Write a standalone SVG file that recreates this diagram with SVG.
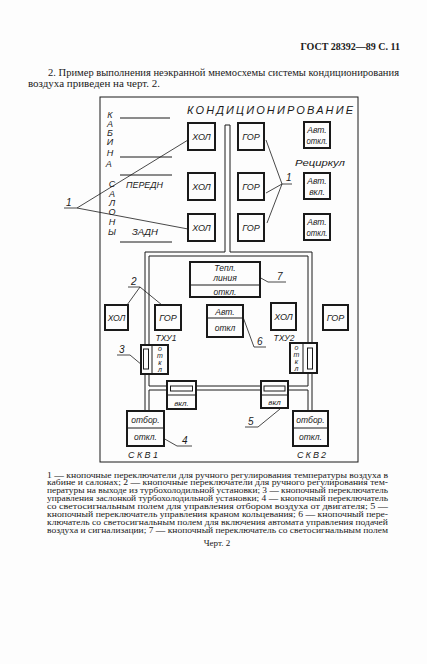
<svg xmlns="http://www.w3.org/2000/svg" width="427" height="664" viewBox="0 0 427 664">
<style>
.bg{fill:#fdfdfd}
.t{font-family:"Liberation Sans",Arial,sans-serif;font-style:italic;fill:#1a1a1a}
.s{font-family:"Liberation Serif","Times New Roman",serif;fill:#1a1a1a}
.bx{fill:#fdfdfd;stroke:#1a1a1a;stroke-width:2}
.ln{fill:none;stroke:#1a1a1a;stroke-width:1}
.lh{fill:none;stroke:#1a1a1a;stroke-width:0.8}
</style>
<rect class="bg" x="0" y="0" width="427" height="664"/>

<g id="header">
<text class="s" x="400" y="50" font-size="10" font-weight="bold" text-anchor="end">ГОСТ 28392—89 С. 11</text>
<text class="s" x="48" y="76" font-size="9.5" textLength="351" lengthAdjust="spacingAndGlyphs">2. Пример выполнения неэкранной мнемосхемы системы кондиционирования</text>
<text class="s" x="28" y="87" font-size="9.5" textLength="132" lengthAdjust="spacingAndGlyphs">воздуха приведен на черт. 2.</text>
</g>

<g id="frame">
<rect class="ln" x="100" y="97" width="258" height="365" stroke-width="1.3"/>
<text class="t" x="187" y="113.5" font-size="11" textLength="166" lengthAdjust="spacing">КОНДИЦИОНИРОВАНИЕ</text>
</g>

<g id="cabin-labels">
<text class="t" font-size="9" text-anchor="middle">
<tspan x="110" y="117.5">К</tspan><tspan x="110" y="126.5">А</tspan><tspan x="110" y="135.5">Б</tspan><tspan x="110" y="144.5">И</tspan><tspan x="110" y="155.5">Н</tspan><tspan x="110" y="166.5">А</tspan>
<tspan x="112" y="186.5">С</tspan><tspan x="112" y="196.5">А</tspan><tspan x="112" y="205.5">Л</tspan><tspan x="112" y="214.5">О</tspan><tspan x="112" y="224.5">Н</tspan><tspan x="112" y="234.5">Ы</tspan>
</text>
<path class="ln" d="M120,118H170M120,157H172M120,175H172M120,242H172"/>
<text class="t" x="126" y="188" font-size="8.5" textLength="37" lengthAdjust="spacingAndGlyphs">ПЕРЕДН</text>
<text class="t" x="132" y="235" font-size="8.5" textLength="26" lengthAdjust="spacingAndGlyphs">ЗАДН</text>
</g>

<g id="connectors">
<path class="ln" d="M145,345V252H225V125H230V252H312V343"/>
<path class="ln" d="M149,345V256H308V343"/>
<path class="ln" d="M145,374V411M149,374V386M149,390V411M149,386H167M149,390H167M196,386H261M196,390H261M288,386H308M288,390H308M312,373V411M308,373V386M308,390V411"/>
</g>

<g id="leaders">
<path class="lh" d="M64,208H77L188,140M77,208L188,229"/>
<path class="lh" d="M266,140L282,184L266,193M282,184L267,223M282,184H292"/>
<path class="lh" d="M128,287H140L127,305M140,287L162,305"/>
<path class="lh" d="M117,355H130L142,365"/>
<path class="lh" d="M163,438L177,446H192"/>
<path class="lh" d="M245,427H258L280,409"/>
<path class="lh" d="M243,317L254,347H266"/>
<path class="lh" d="M259,277L268,282H286"/>
<g class="t" font-size="10">
<text x="66" y="206">1</text>
<text x="286" y="181">1</text>
<text x="131" y="285">2</text>
<text x="119" y="353">3</text>
<text x="182" y="444">4</text>
<text x="248" y="425">5</text>
<text x="257" y="345">6</text>
<text x="277" y="280">7</text>
</g>
</g>

<g id="hol1"><rect class="bx" x="188" y="123" width="27" height="27"/><text class="t" x="201.5" y="139.5" font-size="9" text-anchor="middle">ХОЛ</text></g>
<g id="hol2"><rect class="bx" x="188" y="173" width="27" height="27"/><text class="t" x="201.5" y="189.5" font-size="9" text-anchor="middle">ХОЛ</text></g>
<g id="hol3"><rect class="bx" x="188" y="214" width="27" height="27"/><text class="t" x="201.5" y="230.5" font-size="9" text-anchor="middle">ХОЛ</text></g>
<g id="gor1"><rect class="bx" x="238" y="123" width="26" height="27"/><text class="t" x="251" y="139.5" font-size="9" text-anchor="middle">ГОР</text></g>
<g id="gor2"><rect class="bx" x="238" y="173" width="26" height="27"/><text class="t" x="251" y="189.5" font-size="9" text-anchor="middle">ГОР</text></g>
<g id="gor3"><rect class="bx" x="238" y="214" width="26" height="27"/><text class="t" x="251" y="230.5" font-size="9" text-anchor="middle">ГОР</text></g>

<g id="avt1"><rect class="bx" x="304" y="122" width="26" height="26"/><text class="t" font-size="8.5" text-anchor="middle"><tspan x="317" y="133">Авт.</tspan><tspan x="317" y="144" textLength="21" lengthAdjust="spacingAndGlyphs">откл.</tspan></text></g>
<text class="t" x="295" y="166" font-size="9" textLength="50" lengthAdjust="spacingAndGlyphs">Рециркул</text>
<g id="avt2"><rect class="bx" x="304" y="173" width="26" height="26"/><text class="t" font-size="8.5" text-anchor="middle"><tspan x="317" y="184">Авт.</tspan><tspan x="317" y="195">вкл.</tspan></text></g>
<g id="avt3"><rect class="bx" x="304" y="214" width="26" height="26"/><text class="t" font-size="8.5" text-anchor="middle"><tspan x="317" y="225">Авт.</tspan><tspan x="317" y="236" textLength="21" lengthAdjust="spacingAndGlyphs">откл.</tspan></text></g>

<g id="tepl"><rect class="bx" x="190" y="262" width="70" height="35"/><path class="ln" d="M190,285H260" stroke-width="1.5"/><text class="t" font-size="8.5" text-anchor="middle"><tspan x="225" y="271">Тепл.</tspan><tspan x="225" y="281">линия</tspan><tspan x="225" y="294.5">откл.</tspan></text></g>

<g id="txu1-hol"><rect class="bx" x="105" y="305" width="23" height="25"/><text class="t" x="116.5" y="320.5" font-size="8.5" text-anchor="middle">ХОЛ</text></g>
<g id="txu1-gor"><rect class="bx" x="155" y="305" width="26" height="25"/><text class="t" x="168" y="320.5" font-size="9" text-anchor="middle">ГОР</text><text class="t" x="166" y="341" font-size="8.5" text-anchor="middle">ТХУ1</text></g>
<g id="avt6"><rect class="bx" x="207" y="305" width="36" height="32"/><path class="ln" d="M207,318H243" stroke-width="1.5"/><text class="t" font-size="8.5" text-anchor="middle"><tspan x="225" y="315">Авт.</tspan><tspan x="225" y="331">откл</tspan></text></g>
<g id="txu2-hol"><rect class="bx" x="271" y="303" width="25" height="27"/><text class="t" x="283.5" y="319.5" font-size="9" text-anchor="middle">ХОЛ</text><text class="t" x="284" y="341" font-size="8.5" text-anchor="middle">ТХУ2</text></g>
<g id="txu2-gor"><rect class="bx" x="323" y="305" width="25" height="25"/><text class="t" x="335.5" y="320.5" font-size="9" text-anchor="middle">ГОР</text></g>

<g id="sw3-left"><rect class="bx" x="141" y="345" width="27" height="29"/><path class="ln" d="M152,345V374"/><rect class="ln" x="143.5" y="349" width="5" height="20"/><text class="t" font-size="7" text-anchor="middle"><tspan x="160" y="351">о</tspan><tspan x="160" y="358">т</tspan><tspan x="160" y="365">к</tspan><tspan x="160" y="372">л</tspan></text></g>
<g id="sw3-right"><rect class="bx" x="290" y="343" width="27" height="30"/><path class="ln" d="M303,343V373"/><rect class="ln" x="307.5" y="348" width="5" height="21"/><text class="t" font-size="7" text-anchor="middle"><tspan x="296.5" y="350">о</tspan><tspan x="296.5" y="357">т</tspan><tspan x="296.5" y="364">к</tspan><tspan x="296.5" y="371">л</tspan></text></g>

<g id="vkl-left"><rect class="bx" x="167" y="381" width="29" height="28"/><path class="ln" d="M167,395H196"/><rect class="ln" x="170.5" y="386" width="22" height="5"/><text class="t" x="181.5" y="405.5" font-size="8" text-anchor="middle">вкл.</text></g>
<g id="vkl-right"><rect class="bx" x="261" y="381" width="27" height="27"/><path class="ln" d="M261,395H288"/><rect class="ln" x="264" y="386" width="21" height="5"/><text class="t" x="274.5" y="405" font-size="8" text-anchor="middle">вкл</text></g>

<g id="skv1"><rect class="bx" x="127" y="411" width="37" height="35"/><path class="ln" d="M127,428H164" stroke-width="1.5"/><text class="t" font-size="8.5" text-anchor="middle"><tspan x="145.5" y="422.5">отбор.</tspan><tspan x="145.5" y="440">откл.</tspan></text><text class="t" x="128" y="458" font-size="9" textLength="30" lengthAdjust="spacing">СКВ1</text></g>
<g id="skv2"><rect class="bx" x="293" y="411" width="35" height="35"/><path class="ln" d="M293,428H328" stroke-width="1.5"/><text class="t" font-size="8.5" text-anchor="middle"><tspan x="310.5" y="422.5">отбор.</tspan><tspan x="310.5" y="440">откл.</tspan></text><text class="t" x="297" y="458" font-size="9" textLength="29" lengthAdjust="spacing">СКВ2</text></g>

<g id="caption" class="s" font-size="7.3">
<text x="47" y="477.5" textLength="341" lengthAdjust="spacingAndGlyphs">1 — кнопочные переключатели для ручного регулирования температуры воздуха в</text>
<text x="47" y="485.4" textLength="341" lengthAdjust="spacingAndGlyphs">кабине и салонах; 2 — кнопочные переключатели для ручного регулирования тем-</text>
<text x="47" y="493.3" textLength="341" lengthAdjust="spacingAndGlyphs">пературы на выходе из турбохолодильной установки; 3 — кнопочный переключатель</text>
<text x="47" y="501.2" textLength="341" lengthAdjust="spacingAndGlyphs">управления заслонкой турбохолодильной установки; 4 — кнопочный переключатель</text>
<text x="47" y="509.1" textLength="341" lengthAdjust="spacingAndGlyphs">со светосигнальным полем для управления отбором воздуха  от двигателя; 5 —</text>
<text x="47" y="517" textLength="341" lengthAdjust="spacingAndGlyphs">кнопочный переключатель управления краном кольцевания; 6 — кнопочный пере-</text>
<text x="47" y="524.9" textLength="341" lengthAdjust="spacingAndGlyphs">ключатель со светосигнальным полем для включения автомата управления подачей</text>
<text x="47" y="532.8" textLength="341" lengthAdjust="spacingAndGlyphs">воздуха и сигнализации; 7 — кнопочный переключатель со светосигнальным полем</text>
<text x="217" y="545.5" font-size="9" text-anchor="middle">Черт. 2</text>
</g>
</svg>
